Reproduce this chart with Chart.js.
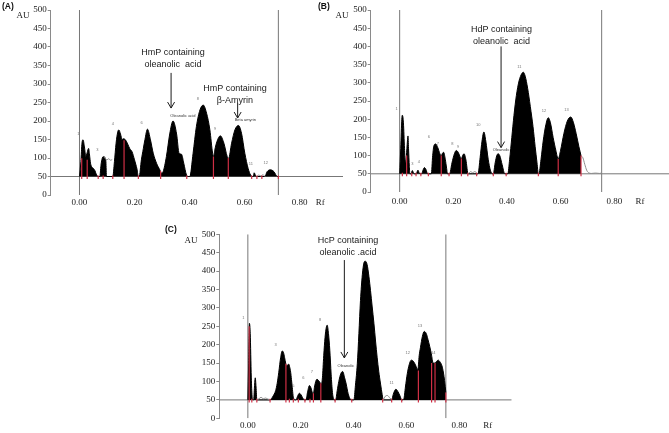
<!DOCTYPE html>
<html>
<head>
<meta charset="utf-8">
<script src="https://cdn.jsdelivr.net/npm/chart.js@4.4.1/dist/chart.umd.min.js"></script>
<style>
  body { margin: 0; background: #fff; }
  #page { position: relative; width: 669px; height: 433px; overflow: hidden; background: #fff; }
  canvas { position: absolute; }
  .au { position: absolute; font: 9px "Liberation Serif", serif; color: #222; transform: translate(-50%, -50%); white-space: nowrap; }
  .tag { position: absolute; font: bold 8.5px "Liberation Sans", Arial, sans-serif; color: #111; transform: translateY(-50%); white-space: nowrap; }
</style>
</head>
<body>
<div id="page">
  <canvas id="panelA" width="345" height="213" style="left:0;top:0"></canvas>
  <canvas id="panelB" width="339" height="213" style="left:330px;top:0"></canvas>
  <canvas id="panelC" width="355" height="208" style="left:160px;top:225px"></canvas>
  <div class="tag" style="left:2px;top:6px">(A)</div>
  <div class="tag" style="left:318px;top:6px">(B)</div>
  <div class="tag" style="left:165px;top:229px">(C)</div>
  <div class="au" style="left:23px;top:15px">AU</div>
  <div class="au" style="left:342px;top:15px">AU</div>
  <div class="au" style="left:191px;top:240px">AU</div>
</div>
<script>
// Rf tick labels shared by the three densitograms
const rfTicks = [0, 0.2, 0.4, 0.6, 0.8];

// (A) HmP track: [Rf, AU]
const traceA = [
  [0, 50], [0.005, 90], [0.009, 140], [0.013, 149], [0.018, 130], [0.023, 104], [0.028, 115], [0.033, 126], [0.037, 105], [0.040, 86], [0.050, 72], [0.056, 66], [0.062, 54], [0.068, 50],
  [0.074, 50], [0.078, 80], [0.083, 100], [0.088, 104], [0.094, 98], [0.096, 90], [0.098, 50],
  [0.121, 50], [0.127, 90], [0.133, 140], [0.139, 170], [0.143, 176], [0.149, 165], [0.155, 150], [0.160, 152], [0.167, 149], [0.175, 138], [0.183, 125], [0.191, 117], [0.200, 95], [0.209, 70], [0.214, 50],
  [0.217, 50], [0.225, 95], [0.232, 125], [0.238, 150], [0.247, 178], [0.258, 149], [0.268, 113], [0.280, 86], [0.292, 68], [0.298, 59],
  [0.304, 63], [0.316, 104], [0.328, 165], [0.340, 200], [0.353, 165], [0.362, 113], [0.371, 110], [0.379, 86], [0.389, 54], [0.395, 50],
  [0.401, 50], [0.413, 113], [0.425, 185], [0.438, 230], [0.450, 243], [0.462, 221], [0.474, 176], [0.484, 113], [0.488, 104],
  [0.492, 122], [0.500, 145], [0.512, 160], [0.525, 140], [0.537, 104], [0.542, 99],
  [0.553, 140], [0.565, 176], [0.578, 188], [0.589, 167], [0.601, 113], [0.613, 72], [0.622, 54], [0.629, 50],
  [0.632, 50], [0.635, 60], [0.641, 51], [0.645, 50],
  [0.674, 50], [0.682, 63], [0.695, 68], [0.707, 63], [0.719, 50], [0.723, 50]
];
const greyA = [
  [0.088, 104], [0.094, 98], [0.100, 95], [0.106, 98], [0.113, 94], [0.119, 96], [0.121, null],
  [0.645, 50], [0.652, 54], [0.660, 51], [0.667, 55], [0.674, 50]
];
// integration cuts: [Rf, height reached by the red marker]
const cutsA = [
  [0.008, 99], [0.028, 95], [0.068, 50], [0.086, 50], [0.121, 50], [0.162, 148], [0.214, 50], [0.295, 65],
  [0.390, 50], [0.487, 104], [0.541, 100], [0.626, 50], [0.645, 50], [0.663, 50], [0.723, 50]
];
const peakTagsA = [[-0.004, 164, '1'], [0.065, 122, '3'], [0.121, 191, '4'], [0.226, 194, '6'], [0.430, 261, '8'], [0.493, 178, '9'], [0.623, 83, '11'], [0.677, 88, '12']];

// (B) HdP track
const traceB = [
  [0, 50], [0.004, 120], [0.008, 200], [0.010, 211], [0.014, 190], [0.018, 120], [0.021, 80], [0.025, 100], [0.029, 140], [0.031, 154], [0.033, 120], [0.036, 70], [0.038, 50],
  [0.043, 50], [0.047, 59], [0.052, 52], [0.055, 50], [0.062, 50], [0.068, 60], [0.073, 52], [0.076, 50],
  [0.082, 50], [0.087, 60], [0.092, 67], [0.098, 62], [0.104, 50],
  [0.118, 50], [0.123, 100], [0.128, 128], [0.134, 132], [0.142, 122], [0.150, 105], [0.155, 100], [0.160, 107], [0.164, 109], [0.170, 90], [0.175, 65], [0.178, 50],
  [0.186, 50], [0.195, 80], [0.204, 105], [0.211, 114], [0.219, 108], [0.226, 95], [0.230, 92], [0.236, 102], [0.240, 105], [0.247, 88], [0.255, 50],
  [0.292, 50], [0.300, 95], [0.307, 140], [0.314, 165], [0.321, 140], [0.330, 90], [0.338, 60], [0.346, 50],
  [0.349, 50], [0.356, 80], [0.362, 100], [0.367, 105], [0.373, 100], [0.382, 75], [0.392, 50],
  [0.403, 50], [0.410, 90], [0.418, 150], [0.426, 210], [0.435, 265], [0.445, 305], [0.455, 325], [0.461, 329], [0.468, 318], [0.477, 285], [0.487, 235], [0.497, 180], [0.505, 125], [0.512, 80], [0.517, 50],
  [0.519, 50], [0.527, 90], [0.535, 140], [0.545, 185], [0.554, 204], [0.562, 190], [0.572, 150], [0.582, 115], [0.591, 91],
  [0.600, 115], [0.612, 160], [0.625, 195], [0.638, 206], [0.648, 190], [0.658, 160], [0.668, 125], [0.676, 100]
];
const greyB = [
  [0.256, 50], [0.265, 56], [0.272, 53], [0.280, 56], [0.290, 50], [0.300, null],
  [0.676, 100], [0.683, 94], [0.690, 76], [0.697, 60], [0.704, 53], [0.715, 51], [0.730, 52], [0.745, 51], [0.753, 52]
];
const cutsB = [
  [0.010, 50], [0.026, 100], [0.045, 50], [0.061, 50], [0.079, 50], [0.107, 50], [0.155, 100], [0.184, 50],
  [0.230, 92], [0.254, 50], [0.287, 50], [0.349, 50], [0.397, 50], [0.517, 50], [0.591, 91], [0.676, 100]
];
const peakTagsB = [[-0.011, 227, '1'], [0.047, 77, '3'], [0.072, 84, '4'], [0.109, 152, '6'], [0.142, 132, '7'], [0.196, 132, '8'], [0.218, 123, '9'], [0.293, 184, '10'], [0.446, 345, '11'], [0.538, 223, '12'], [0.622, 225, '13']];

// (C) HcP track
const traceC = [
  [0, 50], [0.003, 150], [0.006, 258], [0.009, 230], [0.013, 112], [0.016, 60], [0.019, 50],
  [0.022, 50], [0.025, 85], [0.028, 110], [0.031, 85], [0.034, 50],
  [0.084, 50], [0.095, 60], [0.105, 75], [0.111, 95], [0.117, 125], [0.124, 165], [0.130, 183], [0.135, 178], [0.139, 165], [0.143, 150], [0.146, 142], [0.150, 145], [0.155, 147], [0.158, 140], [0.162, 125], [0.165, 105], [0.168, 84], [0.171, 62], [0.174, 53], [0.178, 50],
  [0.182, 50], [0.188, 60], [0.195, 68], [0.201, 64], [0.207, 56], [0.214, 50],
  [0.220, 50], [0.226, 72], [0.233, 89], [0.239, 82], [0.244, 70], [0.248, 68],
  [0.252, 85], [0.258, 103], [0.262, 106], [0.268, 102], [0.274, 96], [0.278, 93],
  [0.282, 110], [0.287, 170], [0.292, 220], [0.297, 248], [0.300, 253], [0.305, 230], [0.310, 185], [0.315, 120], [0.320, 70], [0.326, 50],
  [0.332, 50], [0.338, 75], [0.344, 100], [0.352, 122], [0.359, 127], [0.366, 110], [0.372, 93], [0.379, 68], [0.386, 54], [0.393, 50],
  [0.401, 50], [0.407, 90], [0.414, 148], [0.420, 230], [0.426, 320], [0.433, 390], [0.439, 422], [0.444, 427], [0.451, 418], [0.458, 385], [0.464, 347], [0.470, 305], [0.477, 257], [0.483, 210], [0.489, 166], [0.495, 128], [0.502, 93], [0.508, 65], [0.512, 50],
  [0.544, 50], [0.550, 65], [0.556, 76], [0.560, 79], [0.568, 72], [0.576, 60], [0.582, 50],
  [0.590, 53], [0.596, 85], [0.603, 121], [0.610, 145], [0.618, 158], [0.626, 155], [0.634, 145], [0.643, 132],
  [0.648, 170], [0.653, 193], [0.660, 222], [0.667, 236], [0.675, 230], [0.681, 215], [0.688, 195], [0.694, 175], [0.701, 150],
  [0.708, 150], [0.714, 155], [0.720, 158], [0.727, 153], [0.734, 143], [0.740, 123], [0.744, 103], [0.749, 70]
];
const greyC = [
  [0.034, 50], [0.042, 53], [0.050, 57], [0.058, 53], [0.066, 55], [0.074, 53], [0.084, 50], [0.090, null],
  [0.512, 50], [0.520, 60], [0.528, 62], [0.536, 56], [0.544, 50]
];
const cutsC = [
  [0.005, 250], [0.015, 50], [0.034, 50], [0.084, 50], [0.144, 148], [0.157, 50], [0.172, 50], [0.191, 50], [0.216, 50], [0.235, 50],
  [0.248, 68], [0.276, 95], [0.330, 50], [0.393, 50], [0.510, 50], [0.544, 50], [0.582, 50], [0.645, 130], [0.695, 150], [0.708, 150], [0.749, 70]
];
const peakTagsC = [[-0.017, 274, '1'], [0.105, 199, '3'], [0.172, 89, '5'], [0.210, 111, '6'], [0.242, 125, '7'], [0.273, 267, '8'], [0.544, 95, '11'], [0.605, 177, '12'], [0.651, 252, '13'], [0.701, 177, '14']];

const tickFont = { family: '"Liberation Serif", "Times New Roman", serif', size: 9 };

// draws the callout text, arrows and the tiny peak names in data units
function notesPlugin(notes, tags, peakTags) {
  return {
    id: 'notes',
    afterDatasetsDraw(chart) {
      const { ctx } = chart;
      const x = chart.scales.x, y = chart.scales.y;
      ctx.save();
      ctx.fillStyle = '#1a1a1a';
      ctx.strokeStyle = '#1a1a1a';
      ctx.textAlign = 'center';
      ctx.textBaseline = 'middle';
      ctx.font = '9px "Liberation Sans", Arial, sans-serif';
      notes.forEach(n => {
        const px = x.getPixelForValue(n.x), py = y.getPixelForValue(n.y);
        n.text.forEach((t, i) => ctx.fillText(t, px, py + i * 12));
        const ax = x.getPixelForValue(n.ax), a1 = y.getPixelForValue(n.a1), a2 = y.getPixelForValue(n.a2);
        ctx.lineWidth = 1;
        ctx.beginPath();
        ctx.moveTo(ax, a1); ctx.lineTo(ax, a2);
        ctx.moveTo(ax - 3.5, a2 - 6); ctx.lineTo(ax, a2); ctx.lineTo(ax + 3.5, a2 - 6);
        ctx.stroke();
      });
      ctx.font = '4px "Liberation Sans", Arial, sans-serif';
      ctx.fillStyle = '#333';
      tags.forEach(([rf, au, t]) => ctx.fillText(t, x.getPixelForValue(rf), y.getPixelForValue(au)));
      ctx.font = '4px "Liberation Sans", Arial, sans-serif';
      ctx.fillStyle = '#777';
      peakTags.forEach(([rf, au, t]) => ctx.fillText(t, x.getPixelForValue(rf), y.getPixelForValue(au)));
      ctx.restore();
    }
  };
}

function drawPanel(id, p) {
  const pts = arr => arr.map(([x, y]) => ({ x, y }));
  const cutPts = [];
  p.cuts.forEach(([rf, top]) => {
    cutPts.push({ x: rf, y: 43 }, { x: rf, y: Math.max(top, 53) }, { x: rf, y: null });
  });

  new Chart(document.getElementById(id), {
    type: 'line',
    data: {
      datasets: [
        { data: cutPts, borderColor: '#cf2f45', borderWidth: 1.2, pointRadius: 0, order: 1 },
        { data: pts(p.grey), borderColor: '#8c8c8c', borderWidth: 1, pointRadius: 0, order: 2, cubicInterpolationMode: 'monotone' },
        { data: pts(p.trace), borderColor: '#000', backgroundColor: '#000', borderWidth: 1, pointRadius: 0,
          fill: { value: 50 }, order: 3, cubicInterpolationMode: 'monotone' },
        { data: [{ x: p.xMin, y: 50 }, { x: p.xMax, y: 50 }], borderColor: '#777', borderWidth: 1, pointRadius: 0, order: 4 },
        { data: [{ x: 0, y: 0 }, { x: 0, y: 500 }, { x: 0, y: null }, { x: p.edge, y: 0 }, { x: p.edge, y: 500 }],
          borderColor: '#777', borderWidth: 1, pointRadius: 0, order: 4 }
      ]
    },
    options: {
      responsive: false,
      animation: false,
      events: [],
      layout: { padding: { top: p.top, right: p.right, left: 0, bottom: 0 } },
      plugins: { legend: { display: false }, tooltip: { enabled: false } },
      scales: {
        x: {
          type: 'linear',
          min: p.xMin,
          max: p.xMax,
          grid: { display: false, drawTicks: false },
          border: { display: false },
          afterBuildTicks: s => { s.ticks = rfTicks.concat([p.rfAt]).map(v => ({ value: v })); },
          afterFit: s => { s.height = p.xh; },
          ticks: {
            autoSkip: false, maxRotation: 0, padding: p.xpad, color: '#222', font: tickFont,
            callback: v => (v === p.rfAt ? 'Rf' : v.toFixed(2))
          }
        },
        y: {
          min: 0,
          max: 500,
          afterFit: s => { s.width = p.yw; },
          ticks: { stepSize: 50, padding: 1, color: '#222', font: tickFont },
          grid: { drawOnChartArea: false, tickLength: 3, color: '#8a8a8a' },
          border: { color: '#8a8a8a' }
        }
      }
    },
    plugins: [notesPlugin(p.notes, p.tags, p.peakTags)]
  });
}

drawPanel('panelA', {
  trace: traceA, grey: greyA, cuts: cutsA, peakTags: peakTagsA,
  xMin: -0.1047, xMax: 0.958, edge: 0.723, rfAt: 0.875,
  top: 10, right: 2, yw: 50.7, xh: 18, xpad: 2,
  notes: [
    { x: 0.34, y: 384, text: ['HmP containing', 'oleanolic  acid'], ax: 0.333, a1: 330, a2: 235 },
    { x: 0.565, y: 289, text: ['HmP containing', 'β-Amyrin'], ax: 0.575, a1: 249, a2: 208 }
  ],
  tags: [[0.376, 214, 'Oleanolic acid'], [0.603, 204, 'Beta amyrin']]
});

drawPanel('panelB', {
  trace: traceB, grey: greyB, cuts: cutsB, peakTags: peakTagsB,
  xMin: -0.108, xMax: 1.004, edge: 0.753, rfAt: 0.896,
  top: 10, right: 0, yw: 40.7, xh: 21, xpad: 4,
  notes: [
    { x: 0.380, y: 446, text: ['HdP containing', 'oleanolic  acid'], ax: 0.378, a1: 400, a2: 122 }
  ],
  tags: [[0.378, 117, 'Oleanolic']]
});

drawPanel('panelC', {
  trace: traceC, grey: greyC, cuts: cutsC, peakTags: peakTagsC,
  xMin: -0.108, xMax: 0.998, edge: 0.749, rfAt: 0.907,
  top: 9.3, right: 3.3, yw: 59.3, xh: 14.7, xpad: 2,
  notes: [
    { x: 0.379, y: 484, text: ['HcP containing', 'oleanolic .acid'], ax: 0.365, a1: 430, a2: 164 }
  ],
  tags: [[0.371, 143, 'Oleanolic']]
});
</script>
</body>
</html>
